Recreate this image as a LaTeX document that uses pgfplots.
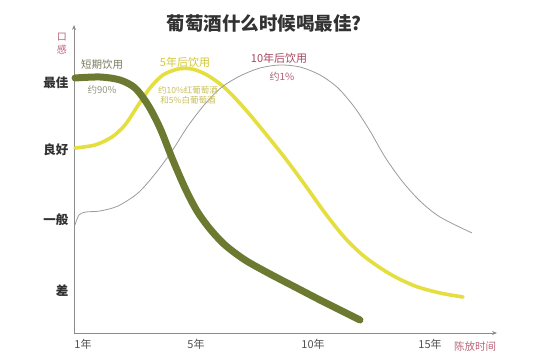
\documentclass[border=0pt]{standalone}
\usepackage{fontspec}
\setmainfont{Noto Sans CJK SC}
\usepackage{pgfplots}
\pgfplotsset{compat=1.18}
\usetikzlibrary{arrows.meta}
\definecolor{wgreen}{RGB}{107,122,48}
\definecolor{wyellow}{RGB}{228,222,62}
\definecolor{wgray}{RGB}{155,155,155}
\definecolor{axgray}{RGB}{140,140,140}
\definecolor{titlec}{RGB}{50,50,50}
\definecolor{pinkc}{RGB}{185,100,120}
\definecolor{redc}{RGB}{165,70,95}
\definecolor{gtext}{RGB}{120,122,95}
\definecolor{ytext}{RGB}{210,200,60}
\definecolor{ysmall}{RGB}{200,190,90}
\begin{document}
\begin{tikzpicture}[x=1pt,y=1pt]
\useasboundingbox (0,0) rectangle (554,363);
\begin{axis}[
  at={(74pt,30pt)}, anchor=south west,
  scale only axis, width=423pt, height=308pt,
  xmin=74, xmax=497, ymin=30, ymax=338,
  axis lines=left,
  axis line style={draw=axgray, line width=0.9pt, -{Stealth[length=5pt,width=4pt]}},
  clip=false,
  major tick length=0,
  xtick={83,196,313,430},
  xticklabels={1年,5年,10年,15年},
  xticklabel style={font=\fontsize{11}{12}\selectfont, text=titlec!85, yshift=-3pt},
  ytick={72,143,213,280},
  yticklabels={差,一般,良好,最佳},
  yticklabel style={font=\fontsize{12.5}{13}\selectfont\bfseries, text=titlec, xshift=-2pt},
]
% yellow: 5 years
\addplot[wyellow, line width=3.6pt, smooth, line cap=round] coordinates {
(75,215) (95,218) (112,226) (125,238) (137,256) (150,275) (163,288) (178,294)
(192,294) (207,288) (225,275) (245,254) (265,230) (285,205) (305,178) (325,150)
(345,125) (365,106) (390,89) (415,77) (440,70) (463,66)};
% gray: 10 years
\addplot[wgray, line width=0.8pt, smooth] coordinates {
(75,138) (79,148) (86,151) (100,152) (118,157) (138,170) (155,189) (172,212)
(188,237) (205,259) (222,276) (240,287) (260,295) (280,298) (300,296) (320,288)
(338,275) (355,255) (370,232) (385,206) (402,182) (420,162) (440,146) (472,130)};
% green: short term
\addplot[wgreen, line width=7pt, smooth, line cap=round] coordinates {
(75,285) (100,286) (120,283) (135,275) (148,258) (160,235) (172,205) (185,175)
(197,152) (210,134) (225,118) (245,103) (270,89) (295,76) (320,63) (340,53) (360,43)};
% texts
\node[font=\fontsize{18.5}{20}\selectfont\bfseries, text=titlec] at (axis cs:264,340) {葡萄酒什么时候喝最佳?};
\node[font=\fontsize{10.5}{12}\selectfont, text=pinkc] at (axis cs:475,17) {陈放时间};
\node[font=\fontsize{10}{11}\selectfont, text=pinkc] at (axis cs:62,326) {口};
\node[font=\fontsize{10}{11}\selectfont, text=pinkc] at (axis cs:62,313) {感};
\node[font=\fontsize{10.5}{12}\selectfont, text=gtext] at (axis cs:102,298) {短期饮用};
\node[font=\fontsize{9.5}{11}\selectfont, text=gtext!80] at (axis cs:102,273) {约90\%};
\node[font=\fontsize{11}{12}\selectfont, text=ytext] at (axis cs:185,301) {5年后饮用};
\node[font=\fontsize{8.5}{9}\selectfont, text=ysmall] at (axis cs:188,273) {约10\%红葡萄酒};
\node[font=\fontsize{8.5}{9}\selectfont, text=ysmall] at (axis cs:188,263) {和5\%白葡萄酒};
\node[font=\fontsize{11}{12}\selectfont, text=redc] at (axis cs:279,305) {10年后饮用};
\node[font=\fontsize{10}{11}\selectfont, text=redc!85] at (axis cs:282,286) {约1\%};
\end{axis}
\end{tikzpicture}
\end{document}
